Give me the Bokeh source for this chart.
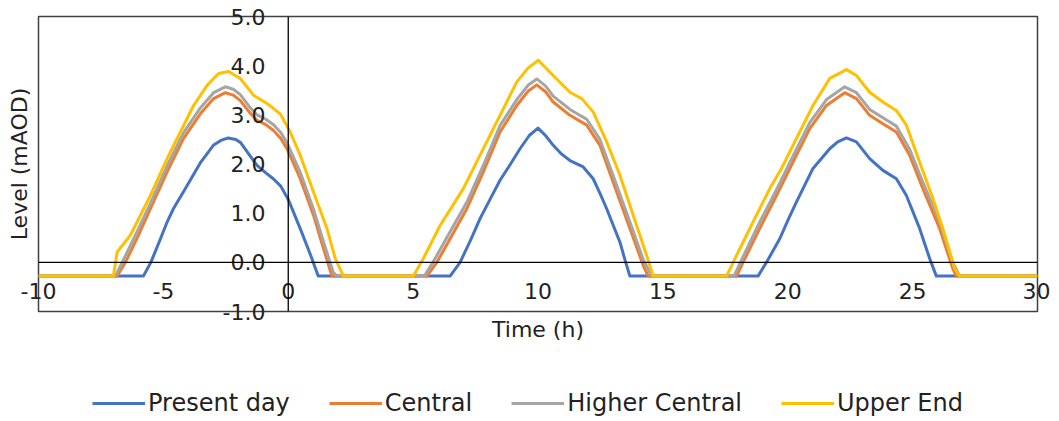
from bokeh.plotting import figure
from bokeh.layouts import column
from bokeh.models import Range1d, Span, ColumnDataSource, Legend, LegendItem, FixedTicker
from bokeh.embed import file_html
from bokeh.resources import INLINE

# ---------------- data ----------------
x_tick_values = [-10, -5, 0, 5, 10, 15, 20, 25, 30]
x_tick_labels = ["-10", "-5", "0", "5", "10", "15", "20", "25", "30"]
y_tick_values = [-1, 0, 1, 2, 3, 4, 5]
y_tick_labels = ["-1.0", "0.0", "1.0", "2.0", "3.0", "4.0", "5.0"]

series_names = ["Present day", "Central", "Higher Central", "Upper End"]

present_t = [-10, -5.8, -5.5, -5.1, -4.85, -4.6, -4.2, -3.5, -3.0, -2.7, -2.4, -2.1, -1.9, -1.55, -1.25, -0.9, -0.6, -0.3, 0.0, 0.5, 0.9, 1.2,
             6.48, 6.88, 7.3, 7.68, 8.1, 8.48, 8.9, 9.28, 9.65, 10.0, 10.3, 10.61, 10.95, 11.28, 11.81, 12.21, 12.5, 12.75, 13.0, 13.28, 13.5, 13.68,
             18.81, 19.15, 19.68, 20.0, 20.35, 21.01, 21.68, 22.0, 22.35, 22.75, 23.28, 23.81, 24.35, 24.75, 25.28, 25.68, 25.95, 30]
present_v = [-0.28, -0.28, 0.0, 0.5, 0.82, 1.09, 1.43, 2.04, 2.38, 2.48, 2.53, 2.50, 2.43, 2.18, 1.97, 1.82, 1.70, 1.55, 1.28, 0.66, 0.14, -0.28,
             -0.28, 0.0, 0.45, 0.89, 1.30, 1.67, 2.0, 2.31, 2.58, 2.73, 2.58, 2.38, 2.20, 2.07, 1.94, 1.70, 1.38, 1.09, 0.77, 0.41, 0.02, -0.28,
             -0.28, 0.0, 0.48, 0.85, 1.23, 1.91, 2.31, 2.45, 2.53, 2.45, 2.11, 1.87, 1.70, 1.36, 0.69, 0.08, -0.28, -0.28]

central_t = [-10, -6.85, -6.52, -6.0, -5.52, -4.85, -4.19, -3.52, -2.99, -2.52, -2.2, -1.92, -1.55, -1.25, -0.9, -0.59, -0.3, -0.05, 0.48, 1.01, 1.41, 1.75,
             5.55, 5.95, 6.48, 7.15, 7.81, 8.48, 9.15, 9.6, 9.95, 10.3, 10.61, 11.28, 11.95, 12.48, 13.01, 13.68, 14.21, 14.41,
             17.95, 18.21, 18.88, 19.55, 20.21, 20.88, 21.55, 22.28, 22.75, 23.28, 23.81, 24.35, 24.88, 25.41, 26.08, 26.61, 26.75, 30]
central_v = [-0.28, -0.28, 0.0, 0.55, 1.09, 1.84, 2.52, 3.02, 3.33, 3.45, 3.40, 3.29, 3.05, 2.89, 2.80, 2.68, 2.52, 2.31, 1.70, 0.96, 0.28, -0.28,
             -0.28, 0.0, 0.48, 1.09, 1.84, 2.65, 3.19, 3.48, 3.61, 3.47, 3.26, 2.99, 2.79, 2.38, 1.63, 0.69, -0.06, -0.28,
             -0.28, 0.0, 0.69, 1.36, 2.04, 2.72, 3.19, 3.45, 3.33, 2.99, 2.82, 2.65, 2.18, 1.50, 0.69, -0.13, -0.28, -0.28]

higher_t = [-10, -6.92, -6.6, -6.0, -5.52, -4.85, -4.19, -3.52, -2.99, -2.52, -2.2, -1.92, -1.55, -1.25, -0.9, -0.59, -0.3, -0.05, 0.48, 1.01, 1.41, 1.8, 1.95,
            5.45, 5.85, 6.48, 7.15, 7.81, 8.48, 9.15, 9.6, 9.95, 10.3, 10.61, 11.28, 11.95, 12.48, 13.01, 13.68, 14.21, 14.55,
            17.85, 18.15, 18.88, 19.55, 20.21, 20.88, 21.55, 22.28, 22.75, 23.28, 23.81, 24.35, 24.88, 25.41, 26.08, 26.61, 26.88, 30]
higher_v = [-0.28, -0.28, 0.05, 0.68, 1.20, 1.96, 2.64, 3.14, 3.45, 3.57, 3.52, 3.41, 3.16, 3.00, 2.91, 2.80, 2.64, 2.43, 1.83, 1.08, 0.42, -0.20, -0.28,
            -0.28, 0.05, 0.62, 1.22, 1.97, 2.78, 3.31, 3.60, 3.73, 3.59, 3.38, 3.11, 2.91, 2.50, 1.76, 0.82, 0.06, -0.28,
            -0.28, 0.05, 0.82, 1.48, 2.16, 2.84, 3.31, 3.57, 3.45, 3.11, 2.94, 2.77, 2.30, 1.63, 0.82, 0.00, -0.28, -0.28]

upper_t = [-10, -7.0, -6.85, -6.32, -5.52, -4.85, -4.32, -3.79, -3.25, -2.79, -2.39, -1.92, -1.39, -0.85, -0.32, 0.08, 0.48, 1.01, 1.55, 1.88, 2.21,
           5.01, 5.41, 6.08, 7.01, 7.68, 8.48, 9.15, 9.6, 10.01, 10.61, 11.28, 11.75, 12.21, 12.75, 13.28, 13.81, 14.35, 14.61,
           17.55, 17.95, 18.61, 19.28, 19.75, 20.35, 21.01, 21.68, 22.35, 22.75, 23.28, 23.81, 24.35, 24.75, 25.28, 25.81, 26.21, 26.68, 26.88, 30]
upper_v = [-0.28, -0.28, 0.21, 0.55, 1.36, 2.11, 2.65, 3.19, 3.60, 3.84, 3.88, 3.74, 3.40, 3.23, 3.02, 2.65, 2.18, 1.43, 0.69, 0.08, -0.28,
           -0.28, 0.08, 0.75, 1.50, 2.18, 2.99, 3.67, 3.95, 4.11, 3.80, 3.46, 3.33, 3.06, 2.45, 1.77, 0.96, 0.14, -0.28,
           -0.28, 0.14, 0.82, 1.50, 1.91, 2.52, 3.19, 3.74, 3.92, 3.80, 3.46, 3.26, 3.09, 2.79, 2.04, 1.30, 0.69, -0.13, -0.28, -0.28]

colors = ["#4472C4", "#ED7D31", "#A5A5A5", "#FFC000"]

# ---------------- main figure ----------------
FONT = "DejaVu Sans"
TXT = "#222222"

p = figure(width=1050, height=350, x_range=Range1d(-10, 30), y_range=Range1d(-1, 5),
           output_backend="svg", toolbar_location=None,
           min_border_left=38, min_border_right=13, min_border_top=16, min_border_bottom=39)
p.xgrid.visible = False
p.ygrid.visible = False
p.outline_line_color = "#404040"
p.outline_line_width = 1.5
p.background_fill_color = "white"
p.border_fill_color = "white"

for ax in p.axis:
    ax.axis_line_color = None
    ax.major_tick_line_color = None
    ax.minor_tick_line_color = None
    ax.major_tick_out = 0
    ax.major_tick_in = 0
    ax.major_label_text_font = FONT
    ax.major_label_text_font_size = "22px"
    ax.major_label_text_color = TXT
    ax.axis_label_text_font = FONT
    ax.axis_label_text_font_style = "normal"
    ax.axis_label_text_font_size = "22px"
    ax.axis_label_text_color = TXT

# x axis: labels pulled up next to the zero line
p.xaxis.ticker = FixedTicker(ticks=x_tick_values)
p.xaxis.major_label_overrides = {v: s for v, s in zip(x_tick_values, x_tick_labels)}
p.xaxis.major_label_standoff = -29
p.xaxis.axis_label = "Time (h)"
p.xaxis.axis_label_standoff = 15

# y axis: labels pushed right next to the x = 0 line
p.yaxis.ticker = FixedTicker(ticks=y_tick_values)
p.yaxis.major_label_overrides = {v: s for v, s in zip(y_tick_values, y_tick_labels)}
p.yaxis.major_label_standoff = -227
p.yaxis.axis_label = "Level (mAOD)"
p.yaxis.axis_label_standoff = 188

# zero lines (axes crossing at 0)
p.add_layout(Span(location=0, dimension="width", line_color="black", line_width=1.3))
p.add_layout(Span(location=0, dimension="height", line_color="black", line_width=1.3))

for t, v, c in zip([present_t, central_t, higher_t, upper_t],
                   [present_v, central_v, higher_v, upper_v], colors):
    src = ColumnDataSource(dict(t=t, v=v))
    p.line("t", "v", source=src, line_color=c, line_width=3, line_join="round")

# ---------------- legend strip below ----------------
leg = figure(width=1050, height=71, x_range=Range1d(0, 1), y_range=Range1d(0, 1),
             output_backend="svg", toolbar_location=None,
             x_axis_type=None, y_axis_type=None,
             min_border_left=0, min_border_right=0, min_border_top=0, min_border_bottom=0)
leg.xgrid.visible = False
leg.ygrid.visible = False
leg.outline_line_color = None
leg.background_fill_color = "white"
leg.border_fill_color = "white"

nan = float("nan")
items = []
for name, c in zip(series_names, colors):
    r = leg.line(x=[nan], y=[nan], line_color=c, line_width=3)
    items.append(LegendItem(label=name, renderers=[r]))

legend = Legend(items=items, orientation="horizontal", location=(54, 4),
                glyph_width=53, glyph_height=20, label_standoff=3, spacing=39,
                padding=0, margin=0, border_line_color=None, background_fill_alpha=0,
                label_text_font=FONT, label_text_font_size="24px", label_text_color=TXT)
leg.add_layout(legend)

layout = column(p, leg, spacing=0)
open("out.html", "w").write(file_html(layout, INLINE))
